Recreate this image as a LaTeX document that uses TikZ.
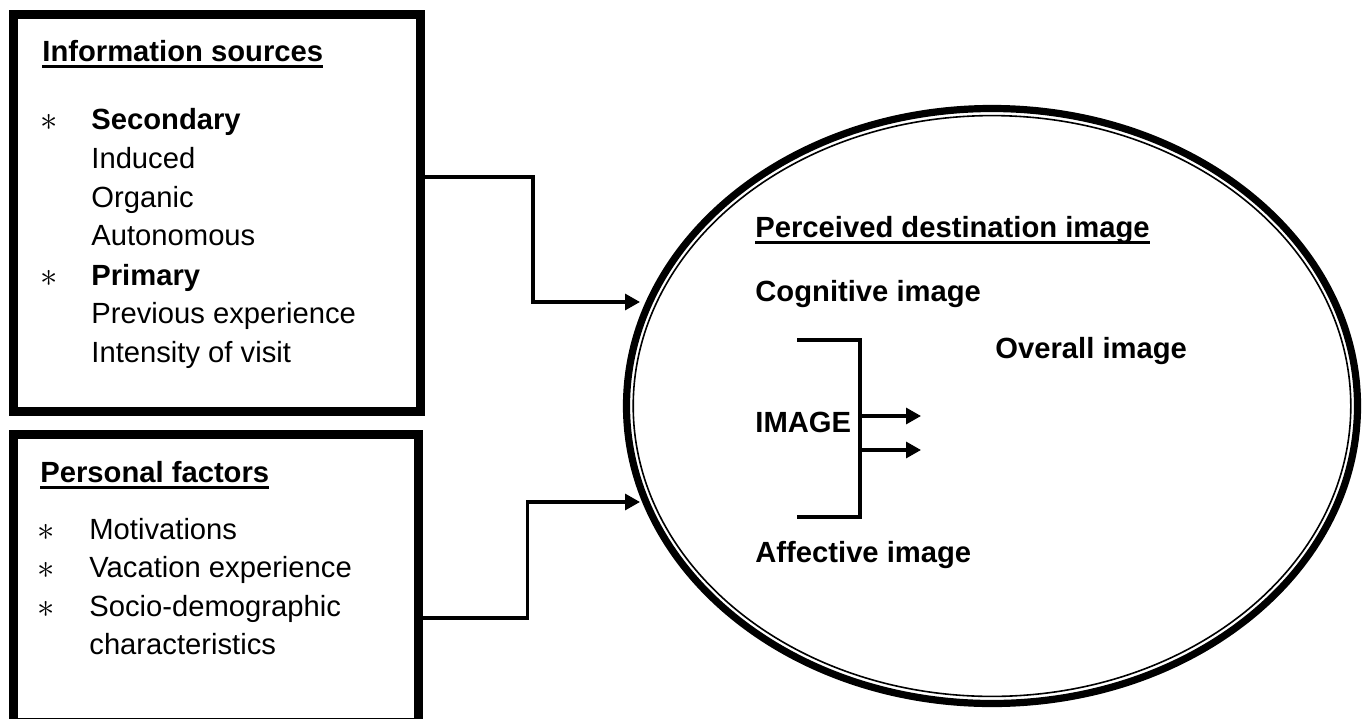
\documentclass[tikz,border=0pt]{standalone}
\usepackage{fontspec}
\setmainfont{Liberation Sans}
\usetikzlibrary{arrows.meta,calc,shapes.geometric}
\newcommand{\ulb}[1]{{\setbox0=\hbox{#1}\rlap{\vrule height -2pt depth 3.6pt width \wd0}\box0}}
\begin{document}
\begin{tikzpicture}[x=0.5pt,y=-0.5pt,
  txt/.style={anchor=base west, inner sep=0pt, font=\fontsize{14.6pt}{17pt}\selectfont},
  btxt/.style={anchor=base west, inner sep=0pt, font=\fontsize{14.6pt}{17pt}\selectfont\bfseries},
  bullet/.style={anchor=base, inner sep=0pt, font=\fontsize{19pt}{21pt}\selectfont},
  framebox/.style={draw, rectangle, line width=3.6pt, inner sep=0pt},
  thinline/.style={line width=0.8pt},
  conn/.style={line width=1.6pt, -{Triangle[length=7.5pt,width=8pt]}},
  brk/.style={line width=1.6pt}]
\useasboundingbox (0,0) rectangle (1365,718);

% ---- Box 1: Information sources
\node[framebox, minimum width=204.25pt, minimum height=199.5pt] (box1) at (216.75,213) {};
\draw[thinline] ($(box1.north west)+(8,8)$) rectangle ($(box1.south east)+(-8,-8)$);
\node[btxt] (t1) at (42,61) {\ulb{Information sources}};
\node[bullet] (s1) at (49,130) {$\ast$};
\node[btxt] (t1a) at (91,129) {Secondary};
\node[txt] (t1b) at (91,168) {Induced};
\node[txt] (t1c) at (91,207) {Organic};
\node[txt] (t1d) at (91,245.5) {Autonomous};
\node[bullet] (s2) at (49,286) {$\ast$};
\node[btxt] (t1e) at (91,285) {Primary};
\node[txt] (t1f) at (91,323.5) {Previous experience};
\node[txt] (t1g) at (91,362) {Intensity of visit};

% ---- Box 2: Personal factors
\node[framebox, minimum width=203.5pt, minimum height=144.5pt] (box2) at (216,578.5) {};
\draw[thinline] ($(box2.north west)+(8,8)$) rectangle ($(box2.south east)+(-8,-8)$);
\node[btxt] (t2) at (40,482) {\ulb{Personal factors}};
\node[bullet] (s3) at (46,540) {$\ast$};
\node[txt] (t2a) at (89,539) {Motivations};
\node[bullet] (s4) at (46,578.5) {$\ast$};
\node[txt] (t2b) at (89,577.5) {Vacation experience};
\node[bullet] (s5) at (46,617) {$\ast$};
\node[txt] (t2c) at (89,616) {Socio-demographic};
\node[txt] (t2d) at (89,654.5) {characteristics};

% ---- Ellipse: Perceived destination image
\node[ellipse, draw, line width=3.6pt, inner sep=0pt, minimum width=365.5pt, minimum height=297.5pt] (dest) at (992,406) {};
\draw[thinline] (dest.center) ellipse [x radius=179.4pt, y radius=145.2pt];
\node[btxt] (e1) at (755,237) {\ulb{Perceived destination image}};
\node[btxt] (e2) at (755,301) {Cognitive image};
\node[btxt] (e3) at (995,358) {Overall image};
\node[btxt] (e4) at (755,432) {IMAGE};
\node[btxt] (e5) at (755,562) {Affective image};

% ---- bracket and inner arrows
\coordinate (b1) at (797,340);
\coordinate (b2) at (860,517);
\coordinate (b3) at (797,517);
\draw[brk] (b1) -| (b2) -- (b3);
\coordinate (a1s) at (860,416);
\coordinate (a1e) at (921,416);
\coordinate (a2s) at (860,450);
\coordinate (a2e) at (921,450);
\draw[conn] (a1s) -- (a1e);
\draw[conn] (a2s) -- (a2e);

% ---- connectors to the ellipse
\coordinate (bend1) at (533,302);
\coordinate (in1) at (640,302);
\coordinate (bend2) at (527.5,502);
\coordinate (in2) at (640,502);
\draw[conn] ($(box1.east)+(0,-36)$) -| (bend1) -- (in1);
\draw[conn] ($(box2.east)+(0,39.5)$) -| (bend2) -- (in2);
\end{tikzpicture}
\end{document}
